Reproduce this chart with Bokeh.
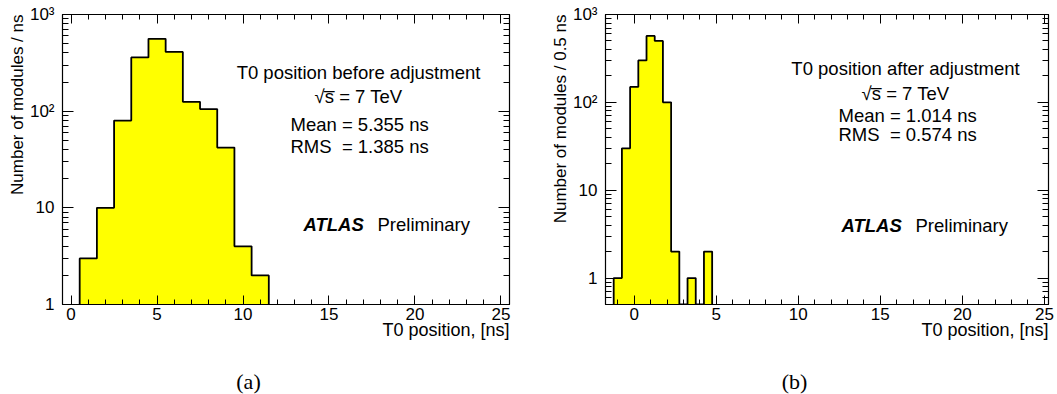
import math
from bokeh.plotting import figure
from bokeh.layouts import row, column
from bokeh.models import (FixedTicker, LinearAxis, LogAxis, Label, Range1d, Title,
                          CustomJSTickFormatter)
from bokeh.embed import file_html
from bokeh.resources import INLINE

# ---------------- data ----------------
# (a) before adjustment: 1 ns bins, centred on integers
a_centers = [1, 2, 3, 4, 5, 6, 7, 8, 9, 10, 11]
a_counts = [3, 10, 80, 360, 560, 410, 125, 105, 42, 4, 2]
a_width = 1.0

# (b) after adjustment: 0.5 ns bins, centred on multiples of 0.5
b_centers = [-1.0, -0.5, 0.0, 0.5, 1.0, 1.5, 2.0, 2.5, 3.0, 3.5, 4.0, 4.5]
b_counts = [1, 30, 150, 300, 570, 500, 100, 2, 0, 1, 0, 2]
b_width = 0.5

x_major = [0, 5, 10, 15, 20, 25]
y_major = [1, 10, 100, 1000]
y_labels = {1: "1", 10: "10", 100: "10\u00b2", 1000: "10\u00b3"}
captions = ["(a)", "(b)"]

FONT = "Liberation Sans"
YELLOW = "#ffff00"
PANEL_H = 350


def make_panel(centers, counts, width, xr, yr, ylabel, title_lines, mean_txt,
               rms_txt, fw, left, right, lines_y, text_cx, stat_x, atlas_x, atlas_y):
    p = figure(width=fw, height=PANEL_H, x_range=Range1d(*xr), y_range=Range1d(*yr),
               y_axis_type="log", output_backend="svg", toolbar_location=None,
               title=None, min_border_left=left, min_border_right=right,
               min_border_top=14, min_border_bottom=PANEL_H - 304)
    p.xgrid.visible = False
    p.ygrid.visible = False
    p.outline_line_color = "black"
    p.outline_line_width = 1.2
    p.background_fill_color = "white"
    p.border_fill_color = "white"

    base = yr[0]
    # ROOT style histogram: step contour built from the bins
    xs, ys = [], []
    for c, n in zip(centers, counts):
        v = n if n > 0 else base
        xs += [c - width / 2, c + width / 2]
        ys += [v, v]
    xs = [xs[0]] + xs + [xs[-1]]
    ys = [base] + ys + [base]
    p.patch(xs, ys, fill_color=YELLOW, line_color=None)
    p.line(xs, ys, line_color="black", line_width=1.8)

    # ticks
    xminor = [v for v in range(int(math.floor(xr[0])), int(math.ceil(xr[1])) + 1)
              if xr[0] <= v <= xr[1]]
    yminor = []
    for d in [0.1, 1, 10, 100]:
        for k in range(2, 10):
            v = k * d
            if yr[0] <= v <= yr[1]:
                yminor.append(v)
    xt = FixedTicker(ticks=x_major, minor_ticks=xminor)
    yt = FixedTicker(ticks=y_major, minor_ticks=yminor)

    bx = p.xaxis[0]
    ly = p.yaxis[0]
    bx.ticker = xt
    ly.ticker = yt
    ly.major_label_overrides = y_labels
    blank = CustomJSTickFormatter(code="return ''")
    top = LinearAxis(ticker=xt, formatter=blank)
    rgt = LogAxis(ticker=yt, formatter=blank)
    p.add_layout(top, "above")
    p.add_layout(rgt, "right")
    for ax in [bx, top]:
        ax.major_tick_in = 9
        ax.major_tick_out = 0
        ax.minor_tick_in = 5
        ax.minor_tick_out = 0
    for ax in [ly, rgt]:
        ax.major_tick_in = 11
        ax.major_tick_out = 0
        ax.minor_tick_in = 6
        ax.minor_tick_out = 0
    for ax in [bx, ly, top, rgt]:
        ax.axis_line_color = "black"
        ax.major_tick_line_color = "black"
        ax.minor_tick_line_color = "black"
        ax.major_label_text_font = FONT
        ax.major_label_text_font_size = "17px"
        ax.major_label_text_color = "black"
    bx.major_label_standoff = 3
    ly.major_label_standoff = 8
    top.major_label_standoff = 0
    rgt.major_label_standoff = 0

    # axis titles, outside the frame
    p.add_layout(Title(text=ylabel, align="right", text_font=FONT,
                       text_font_size="17px", text_font_style="normal",
                       text_color="black", standoff=0, offset=0), "left")
    p.add_layout(Title(text="T0 position, [ns]", align="right", text_font=FONT,
                       text_font_size="18px", text_font_style="normal",
                       text_color="black", standoff=-10, offset=0), "below")

    def lab(text, x, y, align="left", size="18.5px", style="normal"):
        p.add_layout(Label(x=x, y=y, x_units="screen", y_units="screen", text=text,
                           text_font=FONT, text_font_size=size, text_align=align,
                           text_baseline="middle", text_color="black",
                           text_font_style=style))

    lab(title_lines[0], text_cx, lines_y[0], align="center")
    lab(title_lines[1], text_cx, lines_y[1], align="center")
    lab(mean_txt, stat_x, lines_y[2])
    lab(rms_txt, stat_x, lines_y[3])
    lab("ATLAS", atlas_x, atlas_y, style="bold italic")
    lab("Preliminary", atlas_x + 74, atlas_y)
    return p


pa = make_panel(a_centers, a_counts, a_width, (-0.5, 25.5), (1, 1000),
                "Number of modules / ns",
                ["T0 position before adjustment", "\u221as\u0305 = 7 TeV"],
                "Mean = 5.355 ns", "RMS\u00a0 = 1.385 ns",
                528, 62, 19, [232, 208, 180, 158], 296, 228, 241, 80)
pb = make_panel(b_centers, b_counts, b_width, (-1.75, 25.25), (0.5, 1000),
                "Number of modules / 0.5 ns",
                ["T0 position after adjustment", "\u221as\u0305 = 7 TeV"],
                "Mean = 1.014 ns", "RMS\u00a0 = 0.574 ns",
                529, 77, 9, [236, 211, 189, 170], 300, 233, 236, 79)

# caption strip under the two panels
cap_h = 394 - PANEL_H
cs = figure(width=1057, height=cap_h, x_range=Range1d(0, 1057), y_range=Range1d(0, cap_h),
            x_axis_type=None, y_axis_type=None, output_backend="svg",
            toolbar_location=None, title=None, min_border=0)
cs.xgrid.visible = False
cs.ygrid.visible = False
cs.outline_line_color = None
cs.background_fill_color = "white"
cs.border_fill_color = "white"
for txt, cx in zip(captions, [248, 794]):
    cs.add_layout(Label(x=cx, y=394 - 381, text=txt, text_font="Liberation Serif",
                        text_font_size="22px", text_align="center",
                        text_baseline="middle", text_color="black"))

layout = column(row(pa, pb), cs)
open("out.html", "w").write(file_html(layout, INLINE))
